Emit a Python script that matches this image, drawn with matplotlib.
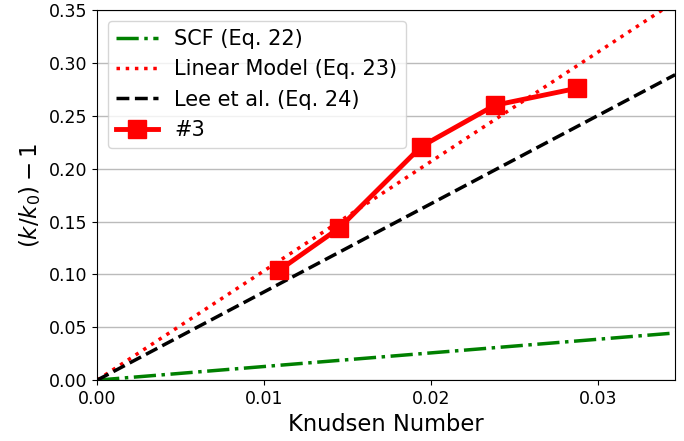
import numpy as np
import matplotlib
matplotlib.use("Agg")
import matplotlib.pyplot as plt
from matplotlib.ticker import FormatStrFormatter

# Measured permeability enhancement for sample #3
knudsen = [0.0109, 0.0145, 0.0194, 0.0238, 0.0287]
enhancement = [0.104, 0.144, 0.221, 0.260, 0.276]

# Slopes of the model lines: (k/k0) - 1 = slope * Kn
slope_scf = 1.29
slope_linear = 10.35
slope_lee = 8.35

x_max = 0.0346
y_max = 0.35

fig = plt.figure(figsize=(6.84, 4.41), dpi=100)
ax = fig.add_axes([0.142, 0.138, 0.845, 0.839])

kn_line = np.array([0.0, x_max])
ax.plot(kn_line, slope_scf * kn_line, color="green", ls="-.", lw=2.5,
        label="SCF (Eq. 22)")
ax.plot(kn_line, slope_linear * kn_line, color="red", ls=":", lw=2.5,
        label="Linear Model (Eq. 23)")
ax.plot(kn_line, slope_lee * kn_line, color="black", ls="--", lw=2.5,
        label="Lee et al. (Eq. 24)")
ax.plot(knudsen, enhancement, color="red", marker="s", ms=13, lw=3.5,
        label="#3")

ax.set_xlim(0, x_max)
ax.set_ylim(0, y_max)
ax.set_xticks([0.0, 0.01, 0.02, 0.03])
ax.set_yticks(np.arange(0, 0.351, 0.05))
ax.xaxis.set_major_formatter(FormatStrFormatter("%.2f"))
ax.yaxis.set_major_formatter(FormatStrFormatter("%.2f"))
ax.tick_params(labelsize=12.5)
ax.yaxis.grid(True, color="#bbbbbb", lw=1)
ax.set_axisbelow(True)

ax.set_xlabel("Knudsen Number", fontsize=16.3)
ax.set_ylabel(r"$(k/k_0) - 1$", fontsize=16.5)

ax.legend(loc="upper left", fontsize=15, handlelength=2.0,
          borderaxespad=0.5)

fig.savefig("out.png", dpi=100)
